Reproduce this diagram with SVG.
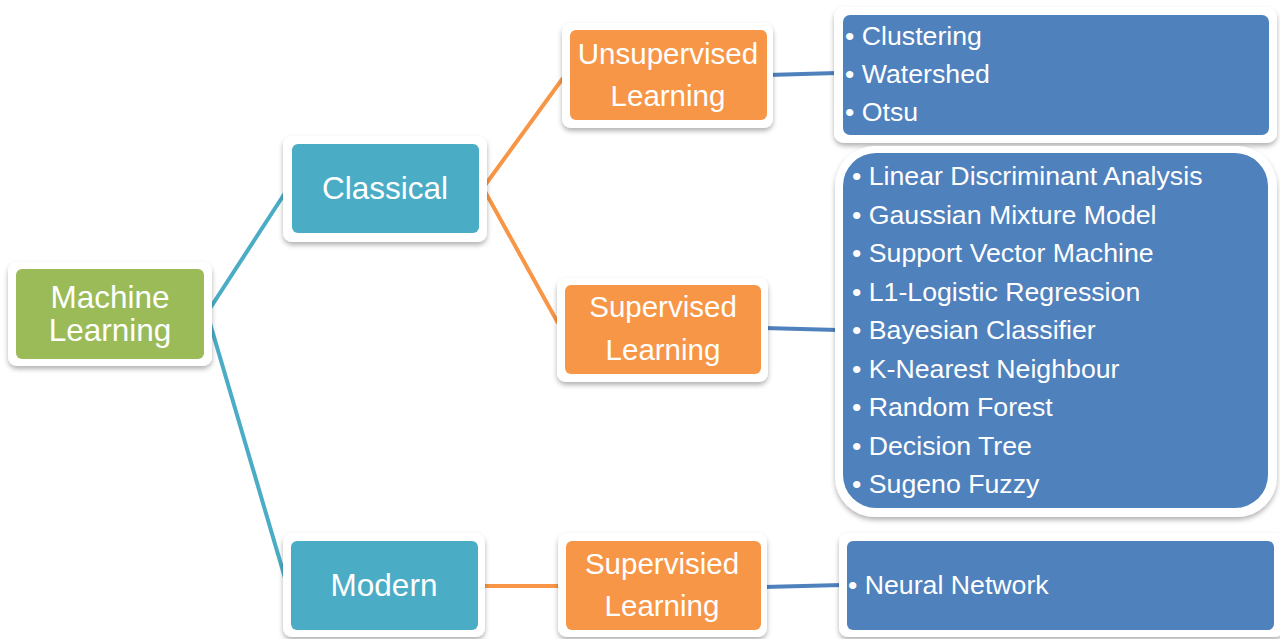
<svg xmlns="http://www.w3.org/2000/svg" width="1280" height="639" viewBox="0 0 1280 639">
<defs>
<filter id="sh" x="-10%" y="-10%" width="120%" height="130%">
<feDropShadow dx="0" dy="3" stdDeviation="2.5" flood-color="#000" flood-opacity="0.3"/>
</filter>
<style>
.frame{fill:#fff;filter:url(#sh)}
.g{fill:#9BBB59}.t{fill:#4BACC6}.o{fill:#F79646}.b{fill:#4F81BD}
.lbl{font-family:"Liberation Sans",Arial,sans-serif;fill:#fff;text-anchor:middle;font-size:31.5px}
.lo{font-family:"Liberation Sans",Arial,sans-serif;fill:#fff;text-anchor:middle;font-size:29.5px}
.li{font-family:"Liberation Sans",Arial,sans-serif;fill:#fff;font-size:26.7px}
.ct{stroke:#4BACC6;stroke-width:4;fill:none}
.co{stroke:#F79646;stroke-width:4;fill:none}
.cb{stroke:#4F81BD;stroke-width:4;fill:none}
</style>
</defs>
<rect width="1280" height="639" fill="#fff"/>
<g id="connectors">
<polyline class="ct" points="285,193 207,313 285,578"/>
<polyline class="co" points="563,78 483,188 558,323"/>
<line class="cb" x1="768" y1="75" x2="837" y2="73"/>
<line class="cb" x1="764" y1="328" x2="838" y2="330"/>
<line class="co" x1="482" y1="586" x2="560" y2="586"/>
<line class="cb" x1="764" y1="587" x2="842" y2="585"/>
</g>
<g id="machine-learning">
<rect class="frame" x="8" y="262" width="204" height="104" rx="9"/>
<rect class="g" x="16" y="269" width="188" height="90" rx="6"/>
<text class="lbl" x="110" y="308">Machine</text>
<text class="lbl" x="110" y="341">Learning</text>
</g>
<g id="classical">
<rect class="frame" x="283" y="136" width="204" height="106" rx="9"/>
<rect class="t" x="292" y="144" width="187" height="89" rx="6"/>
<text class="lbl" x="385" y="199">Classical</text>
</g>
<g id="modern">
<rect class="frame" x="283" y="533" width="202" height="104" rx="9"/>
<rect class="t" x="291" y="541" width="187" height="89" rx="6"/>
<text class="lbl" x="384" y="596">Modern</text>
</g>
<g id="unsupervised">
<rect class="frame" x="562" y="23" width="211" height="105" rx="9"/>
<rect class="o" x="570" y="30" width="197" height="90" rx="6"/>
<text class="lo" x="668" y="64">Unsupervised</text>
<text class="lo" x="668" y="106">Learning</text>
</g>
<g id="supervised">
<rect class="frame" x="557" y="278" width="211" height="104" rx="9"/>
<rect class="o" x="565" y="285" width="196" height="89" rx="6"/>
<text class="lo" x="663" y="317">Supervised</text>
<text class="lo" x="663" y="360">Learning</text>
</g>
<g id="supervisied">
<rect class="frame" x="558" y="533" width="209" height="104" rx="9"/>
<rect class="o" x="566" y="541" width="195" height="89" rx="6"/>
<text class="lo" x="662" y="574">Supervisied</text>
<text class="lo" x="662" y="616">Learning</text>
</g>
<g id="unsupervised-methods">
<rect class="frame" x="834" y="7" width="443" height="136" rx="10"/>
<rect class="b" x="843" y="15" width="426" height="120" rx="7"/>
<text class="li" x="845" y="45">• Clustering</text>
<text class="li" x="845" y="83">• Watershed</text>
<text class="li" x="845" y="121">• Otsu</text>
</g>
<g id="supervised-methods">
<rect class="frame" x="835" y="146" width="442" height="371" rx="40"/>
<rect class="b" x="843" y="153" width="425" height="355" rx="33"/>
<text class="li" x="852" y="185">• Linear Discriminant Analysis</text>
<text class="li" x="852" y="224">• Gaussian Mixture Model</text>
<text class="li" x="852" y="262">• Support Vector Machine</text>
<text class="li" x="852" y="301">• L1-Logistic Regression</text>
<text class="li" x="852" y="339">• Bayesian Classifier</text>
<text class="li" x="852" y="378">• K-Nearest Neighbour</text>
<text class="li" x="852" y="416">• Random Forest</text>
<text class="li" x="852" y="455">• Decision Tree</text>
<text class="li" x="852" y="493">• Sugeno Fuzzy</text>
</g>
<g id="modern-methods">
<rect class="frame" x="839" y="533" width="445" height="104" rx="9"/>
<rect class="b" x="847" y="541" width="427" height="89" rx="6"/>
<text class="li" x="848" y="594">• Neural Network</text>
</g>
</svg>
